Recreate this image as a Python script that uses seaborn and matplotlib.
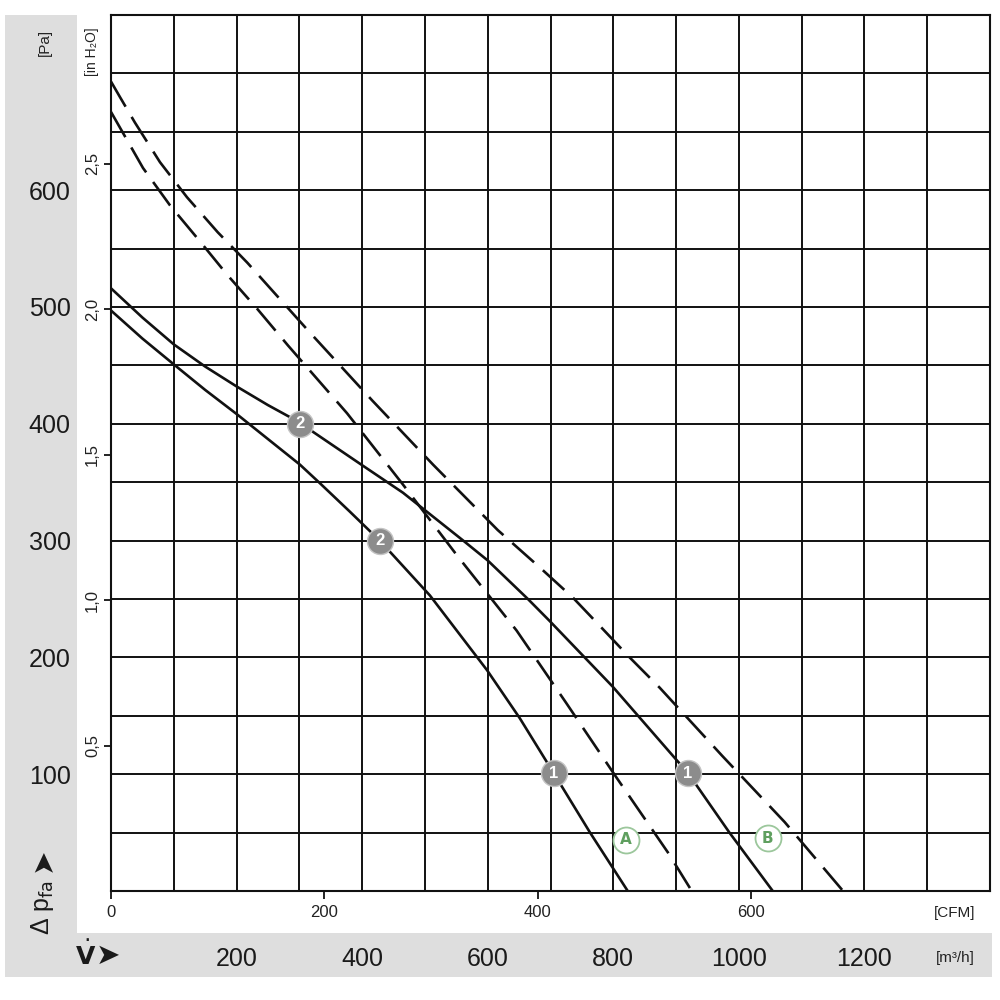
import numpy as np
import pandas as pd
import matplotlib
matplotlib.use("Agg")
import matplotlib.pyplot as plt
import seaborn as sns
from matplotlib.patches import Rectangle
from matplotlib.ticker import MultipleLocator

# ---- data (flow in m³/h, pressure in Pa) ----
solid_hi_q = [0, 50, 100, 150, 200, 250, 301, 322, 396, 465, 561, 600, 664, 699, 799, 901, 919, 985, 1054]
solid_hi_p = [516, 491, 468, 449, 432, 416, 401, 393, 366, 341, 300, 283, 250, 231, 175, 112, 101, 50, 0]

solid_lo_q = [0, 50, 102, 150, 201, 301, 333, 380, 428, 508, 599, 651, 705, 763, 823]
solid_lo_p = [497, 473, 450, 429, 408, 365, 349, 325, 300, 253, 189, 148, 101, 50, 0]

dash_a_q = [0, 17, 51, 94, 142, 186, 232, 282, 376, 465, 553, 646, 725, 804, 887, 925]
dash_a_p = [667, 651, 619, 587, 556, 527, 499, 467, 409, 348, 286, 223, 161, 98, 33, 0]

dash_b_q = [0, 14, 38, 78, 121, 170, 217, 317, 416, 513, 616, 683, 736, 775, 826, 874, 973, 1073, 1166]
dash_b_p = [693, 680, 658, 624, 594, 564, 538, 478, 420, 365, 309, 277, 251, 229, 200, 174, 116, 59, 0]

op2_q = [301, 428]
op2_p = [400, 300]
op1_q = [705, 919]
op1_p = [101, 101]
lab_q = [820, 1046]
lab_p = [44, 45]
lab_txt = ["A", "B"]

pa_ticks = [100, 200, 300, 400, 500, 600]
m3h_ticks = [200, 400, 600, 800, 1000, 1200]
cfm_ticks = [0, 200, 400, 600]
inh2o_ticks = [0.5, 1.0, 1.5, 2.0, 2.5]
inh2o_labels = ["0,5", "1,0", "1,5", "2,0", "2,5"]

sns.set_style("white")
plt.rcParams["font.family"] = ["Liberation Sans Narrow", "Liberation Sans", "DejaVu Sans"]

fig = plt.figure(figsize=(10, 10), dpi=100)
band = "#dedede"
fig.patches.append(Rectangle((0.005, 0.023), 0.072, 0.962, transform=fig.transFigure,
                             facecolor=band, edgecolor="none", zorder=-1))
fig.patches.append(Rectangle((0.005, 0.023), 0.987, 0.044, transform=fig.transFigure,
                             facecolor=band, edgecolor="none", zorder=-1))

ax = fig.add_axes([0.111, 0.109, 0.879, 0.876])
ax.set_xlim(0, 1400)
ax.set_ylim(0, 750)
ax.set_facecolor("white")

ax.xaxis.set_minor_locator(MultipleLocator(100))
ax.yaxis.set_minor_locator(MultipleLocator(50))
ax.set_xticks(m3h_ticks)
ax.set_xticklabels([str(v) for v in m3h_ticks], fontsize=18, color="#1a1a1a")
ax.set_yticks(pa_ticks)
ax.set_yticklabels([str(v) for v in pa_ticks], fontsize=18, color="#1a1a1a")
ax.tick_params(which="both", length=0)
ax.tick_params(axis="x", pad=40)
ax.tick_params(axis="y", pad=29)
ax.grid(which="both", color="#111111", lw=1.4)
ax.set_axisbelow(True)
for s in ax.spines.values():
    s.set_visible(True)
    s.set_color("#111111")
    s.set_linewidth(1.5)

curves = [
    (solid_hi_q, solid_hi_p, "-"),
    (solid_lo_q, solid_lo_p, "-"),
    (dash_a_q, dash_a_p, (0, (11, 4.5))),
    (dash_b_q, dash_b_p, (0, (11, 4.5))),
]
for q, p, ls in curves:
    df = pd.DataFrame({"Q": q, "P": p})
    sns.lineplot(data=df, x="Q", y="P", ax=ax, color="#111111", lw=1.9,
                 linestyle=ls, estimator=None, sort=False, zorder=3)
ax.set_xlabel("")
ax.set_ylabel("")

# operating points
def numbered(qs, ps, txt):
    ax.scatter(qs, ps, s=350, color="#8c8c8c", edgecolor="#c4c4c4", lw=1.0, zorder=5)
    for q, p in zip(qs, ps):
        ax.text(q, p, txt, ha="center", va="center", color="white", fontsize=12,
                fontweight="bold", family=["Liberation Sans", "DejaVu Sans"], zorder=6)

numbered(op2_q, op2_p, "2")
numbered(op1_q, op1_p, "1")
ax.scatter(lab_q, lab_p, s=350, color="white", edgecolor="#9cc79c", lw=1.3, zorder=5)
for q, p, t in zip(lab_q, lab_p, lab_txt):
    ax.text(q, p, t, ha="center", va="center", color="#5f9f5f", fontsize=11,
            fontweight="bold", family=["Liberation Sans Narrow", "DejaVu Sans"], zorder=6)

# secondary axes
secy = ax.secondary_yaxis("left", functions=(lambda p: p / 249.09, lambda h: h * 249.09))
secy.set_yticks(inh2o_ticks)
secy.set_yticklabels(inh2o_labels, rotation=90, va="center", fontsize=12, color="#222")
secy.tick_params(length=5, width=1.3, pad=3, color="#111")
secy.spines["left"].set_visible(False)

secx = ax.secondary_xaxis("bottom", functions=(lambda q: q / 1.699, lambda c: c * 1.699))
secx.set_xticks(cfm_ticks)
secx.set_xticklabels([str(v) for v in cfm_ticks], fontsize=12, color="#222")
secx.tick_params(length=6, width=1.3, pad=4, color="#111")
secx.spines["bottom"].set_visible(False)

# unit labels
fig.text(0.955, 1 - 913 / 1000, "[CFM]", ha="center", va="center", fontsize=11, color="#222")
fig.text(0.955, 1 - 958 / 1000, "[m³/h]", ha="center", va="center", fontsize=11, color="#222")
fig.text(0.045, 1 - 42 / 1000, "[Pa]", rotation=90, ha="center", va="center", fontsize=11, color="#222")
fig.text(0.092, 1 - 52 / 1000, "[in H₂O]", rotation=90, ha="center", va="center", fontsize=10, color="#222")
fig.text(0.043, 1 - 907 / 1000, r"Δ p$_{\mathrm{fa}}$", rotation=90, ha="center", va="center",
         fontsize=18, color="#1a1a1a")
fig.text(0.043, 1 - 860 / 1000, "➤", rotation=90, ha="center", va="center",
         fontsize=21, color="#1a1a1a", family="DejaVu Sans")
fig.text(0.086, 1 - 955 / 1000, r"$\dot{\mathbf{V}}$", ha="center", va="center",
         fontsize=18, color="#1a1a1a")
fig.text(0.108, 1 - 956 / 1000, "➤", ha="center", va="center",
         fontsize=21, color="#1a1a1a", family="DejaVu Sans")

fig.savefig("out.png", dpi=100, facecolor="white")
